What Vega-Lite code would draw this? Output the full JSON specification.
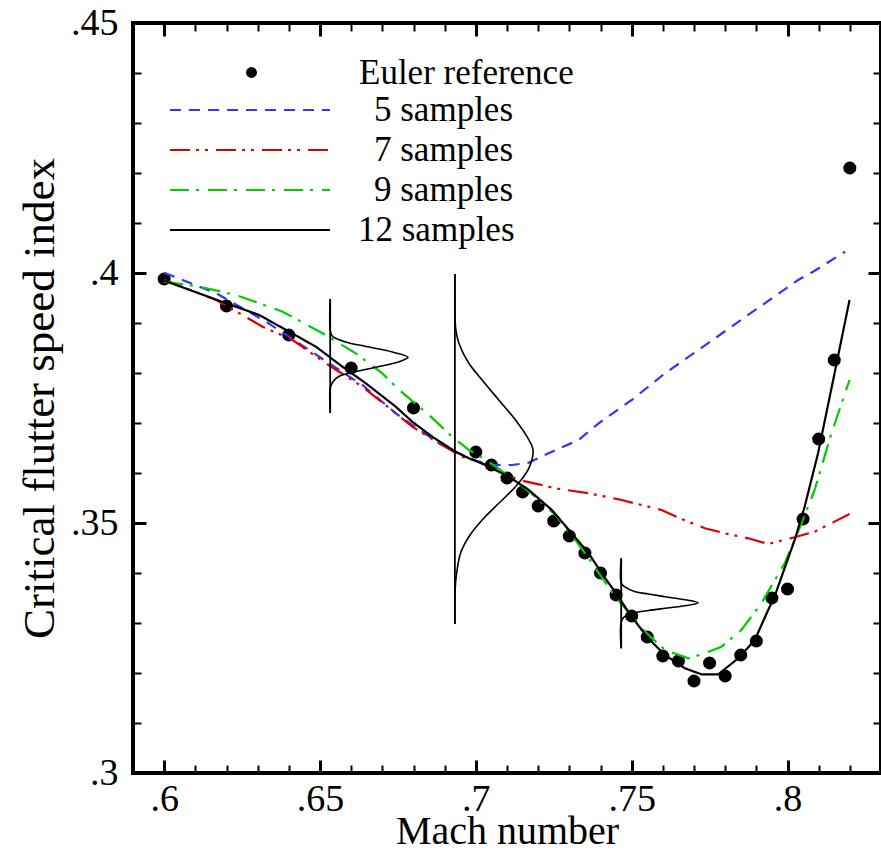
{
  "$schema": "https://vega.github.io/schema/vega-lite/v6.json",
  "width": 748,
  "height": 750,
  "autosize": {"type": "none"},
  "padding": {"left": 133, "top": 23, "right": 0, "bottom": 79},
  "background": "white",
  "config": {
    "view": {"stroke": "black", "strokeWidth": 4},
    "font": "Liberation Serif",
    "axis": {
      "grid": false,
      "domain": false,
      "tickColor": "black",
      "labelColor": "black",
      "titleColor": "black",
      "labelFont": "Liberation Serif",
      "titleFont": "Liberation Serif",
      "titleFontWeight": "normal",
      "labelFlush": false,
      "labelOverlap": false
    },
    "legend": {
      "labelFont": "Liberation Serif",
      "labelColor": "black",
      "labelFontSize": 35,
      "labelLimit": 0,
      "padding": 0,
      "title": null
    }
  },
  "datasets": {
    "euler": [
      {"mach": 0.6, "speed": 0.3988}, {"mach": 0.62, "speed": 0.3934}, {"mach": 0.64, "speed": 0.3876},
      {"mach": 0.66, "speed": 0.381}, {"mach": 0.68, "speed": 0.373}, {"mach": 0.7, "speed": 0.3642},
      {"mach": 0.705, "speed": 0.3616}, {"mach": 0.71, "speed": 0.359}, {"mach": 0.715, "speed": 0.3562},
      {"mach": 0.72, "speed": 0.3534}, {"mach": 0.725, "speed": 0.3504}, {"mach": 0.73, "speed": 0.3474},
      {"mach": 0.735, "speed": 0.344}, {"mach": 0.74, "speed": 0.34}, {"mach": 0.745, "speed": 0.3356},
      {"mach": 0.75, "speed": 0.3314}, {"mach": 0.755, "speed": 0.3272}, {"mach": 0.76, "speed": 0.3234},
      {"mach": 0.765, "speed": 0.3224}, {"mach": 0.77, "speed": 0.3184}, {"mach": 0.775, "speed": 0.322},
      {"mach": 0.78, "speed": 0.3194}, {"mach": 0.785, "speed": 0.3236}, {"mach": 0.79, "speed": 0.3264},
      {"mach": 0.795, "speed": 0.335}, {"mach": 0.8, "speed": 0.3368}, {"mach": 0.805, "speed": 0.3508},
      {"mach": 0.81, "speed": 0.3668}, {"mach": 0.815, "speed": 0.3826}, {"mach": 0.82, "speed": 0.421}
    ],
    "models": [
      {"s": "5 samples", "mach": 0.6, "speed": 0.40006},
      {"s": "5 samples", "mach": 0.6167, "speed": 0.39594},
      {"s": "5 samples", "mach": 0.6327, "speed": 0.39026},
      {"s": "5 samples", "mach": 0.6433, "speed": 0.38594},
      {"s": "5 samples", "mach": 0.6529, "speed": 0.38194},
      {"s": "5 samples", "mach": 0.6636, "speed": 0.3776},
      {"s": "5 samples", "mach": 0.6743, "speed": 0.37194},
      {"s": "5 samples", "mach": 0.6796, "speed": 0.3696},
      {"s": "5 samples", "mach": 0.6882, "speed": 0.36594},
      {"s": "5 samples", "mach": 0.6956, "speed": 0.3636},
      {"s": "5 samples", "mach": 0.701, "speed": 0.36226},
      {"s": "5 samples", "mach": 0.7063, "speed": 0.3616},
      {"s": "5 samples", "mach": 0.7116, "speed": 0.3616},
      {"s": "5 samples", "mach": 0.717, "speed": 0.36206},
      {"s": "5 samples", "mach": 0.7244, "speed": 0.36426},
      {"s": "5 samples", "mach": 0.733, "speed": 0.3666},
      {"s": "5 samples", "mach": 0.7394, "speed": 0.36994},
      {"s": "5 samples", "mach": 0.75, "speed": 0.3746},
      {"s": "5 samples", "mach": 0.7607, "speed": 0.37994},
      {"s": "5 samples", "mach": 0.7714, "speed": 0.3846},
      {"s": "5 samples", "mach": 0.782, "speed": 0.38926},
      {"s": "5 samples", "mach": 0.7927, "speed": 0.39394},
      {"s": "5 samples", "mach": 0.8034, "speed": 0.3986},
      {"s": "5 samples", "mach": 0.8082, "speed": 0.40026},
      {"s": "5 samples", "mach": 0.8185, "speed": 0.40426},
      {"s": "7 samples", "mach": 0.6, "speed": 0.3986},
      {"s": "7 samples", "mach": 0.6167, "speed": 0.3946},
      {"s": "7 samples", "mach": 0.6316, "speed": 0.38926},
      {"s": "7 samples", "mach": 0.6412, "speed": 0.3866},
      {"s": "7 samples", "mach": 0.6519, "speed": 0.38194},
      {"s": "7 samples", "mach": 0.6636, "speed": 0.37726},
      {"s": "7 samples", "mach": 0.6743, "speed": 0.37194},
      {"s": "7 samples", "mach": 0.6796, "speed": 0.36926},
      {"s": "7 samples", "mach": 0.6882, "speed": 0.36594},
      {"s": "7 samples", "mach": 0.6956, "speed": 0.36326},
      {"s": "7 samples", "mach": 0.701, "speed": 0.36226},
      {"s": "7 samples", "mach": 0.7063, "speed": 0.3606},
      {"s": "7 samples", "mach": 0.7138, "speed": 0.3586},
      {"s": "7 samples", "mach": 0.7202, "speed": 0.35774},
      {"s": "7 samples", "mach": 0.7255, "speed": 0.35694},
      {"s": "7 samples", "mach": 0.7362, "speed": 0.35594},
      {"s": "7 samples", "mach": 0.7458, "speed": 0.35474},
      {"s": "7 samples", "mach": 0.7532, "speed": 0.3536},
      {"s": "7 samples", "mach": 0.7596, "speed": 0.3526},
      {"s": "7 samples", "mach": 0.766, "speed": 0.3508},
      {"s": "7 samples", "mach": 0.7735, "speed": 0.34894},
      {"s": "7 samples", "mach": 0.7799, "speed": 0.34794},
      {"s": "7 samples", "mach": 0.7874, "speed": 0.34694},
      {"s": "7 samples", "mach": 0.7938, "speed": 0.3458},
      {"s": "7 samples", "mach": 0.8023, "speed": 0.34714},
      {"s": "7 samples", "mach": 0.8087, "speed": 0.34826},
      {"s": "7 samples", "mach": 0.8199, "speed": 0.3518},
      {"s": "9 samples", "mach": 0.6, "speed": 0.39826},
      {"s": "9 samples", "mach": 0.6113, "speed": 0.39726},
      {"s": "9 samples", "mach": 0.6231, "speed": 0.3956},
      {"s": "9 samples", "mach": 0.638, "speed": 0.39226},
      {"s": "9 samples", "mach": 0.6508, "speed": 0.38794},
      {"s": "9 samples", "mach": 0.6615, "speed": 0.38394},
      {"s": "9 samples", "mach": 0.67, "speed": 0.37994},
      {"s": "9 samples", "mach": 0.6754, "speed": 0.3766},
      {"s": "9 samples", "mach": 0.685, "speed": 0.3716},
      {"s": "9 samples", "mach": 0.6924, "speed": 0.36726},
      {"s": "9 samples", "mach": 0.6978, "speed": 0.3646},
      {"s": "9 samples", "mach": 0.7042, "speed": 0.36226},
      {"s": "9 samples", "mach": 0.7116, "speed": 0.35894},
      {"s": "9 samples", "mach": 0.7191, "speed": 0.35526},
      {"s": "9 samples", "mach": 0.7255, "speed": 0.3516},
      {"s": "9 samples", "mach": 0.7308, "speed": 0.3476},
      {"s": "9 samples", "mach": 0.7362, "speed": 0.34294},
      {"s": "9 samples", "mach": 0.7447, "speed": 0.33526},
      {"s": "9 samples", "mach": 0.7543, "speed": 0.32826},
      {"s": "9 samples", "mach": 0.7607, "speed": 0.3246},
      {"s": "9 samples", "mach": 0.7682, "speed": 0.32294},
      {"s": "9 samples", "mach": 0.7735, "speed": 0.32394},
      {"s": "9 samples", "mach": 0.7788, "speed": 0.32526},
      {"s": "9 samples", "mach": 0.7852, "speed": 0.3286},
      {"s": "9 samples", "mach": 0.7916, "speed": 0.33394},
      {"s": "9 samples", "mach": 0.7991, "speed": 0.34194},
      {"s": "9 samples", "mach": 0.8045, "speed": 0.34994},
      {"s": "9 samples", "mach": 0.8087, "speed": 0.3566},
      {"s": "9 samples", "mach": 0.8141, "speed": 0.36794},
      {"s": "9 samples", "mach": 0.8199, "speed": 0.3786},
      {"s": "12 samples", "mach": 0.6001, "speed": 0.39846},
      {"s": "12 samples", "mach": 0.6199, "speed": 0.39394},
      {"s": "12 samples", "mach": 0.6305, "speed": 0.3916},
      {"s": "12 samples", "mach": 0.6401, "speed": 0.38826},
      {"s": "12 samples", "mach": 0.6487, "speed": 0.38526},
      {"s": "12 samples", "mach": 0.6572, "speed": 0.38126},
      {"s": "12 samples", "mach": 0.6647, "speed": 0.37794},
      {"s": "12 samples", "mach": 0.6743, "speed": 0.37326},
      {"s": "12 samples", "mach": 0.6796, "speed": 0.37026},
      {"s": "12 samples", "mach": 0.686, "speed": 0.36726},
      {"s": "12 samples", "mach": 0.6935, "speed": 0.36426},
      {"s": "12 samples", "mach": 0.6978, "speed": 0.36294},
      {"s": "12 samples", "mach": 0.7031, "speed": 0.3616},
      {"s": "12 samples", "mach": 0.7106, "speed": 0.35926},
      {"s": "12 samples", "mach": 0.717, "speed": 0.3566},
      {"s": "12 samples", "mach": 0.7244, "speed": 0.3526},
      {"s": "12 samples", "mach": 0.7308, "speed": 0.34794},
      {"s": "12 samples", "mach": 0.7362, "speed": 0.34394},
      {"s": "12 samples", "mach": 0.7404, "speed": 0.33994},
      {"s": "12 samples", "mach": 0.7452, "speed": 0.33574},
      {"s": "12 samples", "mach": 0.75, "speed": 0.33126},
      {"s": "12 samples", "mach": 0.7553, "speed": 0.32694},
      {"s": "12 samples", "mach": 0.7607, "speed": 0.3236},
      {"s": "12 samples", "mach": 0.7671, "speed": 0.32094},
      {"s": "12 samples", "mach": 0.7724, "speed": 0.31974},
      {"s": "12 samples", "mach": 0.7778, "speed": 0.31974},
      {"s": "12 samples", "mach": 0.7842, "speed": 0.32294},
      {"s": "12 samples", "mach": 0.7895, "speed": 0.3266},
      {"s": "12 samples", "mach": 0.7938, "speed": 0.3326},
      {"s": "12 samples", "mach": 0.7959, "speed": 0.3354},
      {"s": "12 samples", "mach": 0.8023, "speed": 0.3466},
      {"s": "12 samples", "mach": 0.8055, "speed": 0.35326},
      {"s": "12 samples", "mach": 0.8098, "speed": 0.36394},
      {"s": "12 samples", "mach": 0.8151, "speed": 0.37994},
      {"s": "12 samples", "mach": 0.8199, "speed": 0.3946}
    ],
    "pdfs": [
      {"pdf": "M0.653", "mach": 0.65327, "speed": 0.3948},
      {"pdf": "M0.653", "mach": 0.65328, "speed": 0.3886},
      {"pdf": "M0.653", "mach": 0.6539, "speed": 0.3874},
      {"pdf": "M0.653", "mach": 0.65518, "speed": 0.3869},
      {"pdf": "M0.653", "mach": 0.65934, "speed": 0.386},
      {"pdf": "M0.653", "mach": 0.66414, "speed": 0.3854},
      {"pdf": "M0.653", "mach": 0.66895, "speed": 0.3848},
      {"pdf": "M0.653", "mach": 0.67375, "speed": 0.3841},
      {"pdf": "M0.653", "mach": 0.67823, "speed": 0.38314},
      {"pdf": "M0.653", "mach": 0.67535, "speed": 0.38226},
      {"pdf": "M0.653", "mach": 0.66895, "speed": 0.3813},
      {"pdf": "M0.653", "mach": 0.66159, "speed": 0.3803},
      {"pdf": "M0.653", "mach": 0.65711, "speed": 0.3796},
      {"pdf": "M0.653", "mach": 0.65518, "speed": 0.37894},
      {"pdf": "M0.653", "mach": 0.6539, "speed": 0.378},
      {"pdf": "M0.653", "mach": 0.65328, "speed": 0.377},
      {"pdf": "M0.653", "mach": 0.65327, "speed": 0.372},
      {"pdf": "M0.693", "mach": 0.69328, "speed": 0.3998},
      {"pdf": "M0.693", "mach": 0.69328, "speed": 0.3946},
      {"pdf": "M0.693", "mach": 0.69332, "speed": 0.39126},
      {"pdf": "M0.693", "mach": 0.6936, "speed": 0.3886},
      {"pdf": "M0.693", "mach": 0.69456, "speed": 0.38594},
      {"pdf": "M0.693", "mach": 0.69776, "speed": 0.38194},
      {"pdf": "M0.693", "mach": 0.70202, "speed": 0.3786},
      {"pdf": "M0.693", "mach": 0.70736, "speed": 0.3746},
      {"pdf": "M0.693", "mach": 0.71271, "speed": 0.3706},
      {"pdf": "M0.693", "mach": 0.71642, "speed": 0.36726},
      {"pdf": "M0.693", "mach": 0.71834, "speed": 0.3646},
      {"pdf": "M0.693", "mach": 0.717, "speed": 0.36094},
      {"pdf": "M0.693", "mach": 0.71271, "speed": 0.35726},
      {"pdf": "M0.693", "mach": 0.70736, "speed": 0.35394},
      {"pdf": "M0.693", "mach": 0.70202, "speed": 0.3506},
      {"pdf": "M0.693", "mach": 0.69776, "speed": 0.34726},
      {"pdf": "M0.693", "mach": 0.69509, "speed": 0.34394},
      {"pdf": "M0.693", "mach": 0.6937, "speed": 0.33926},
      {"pdf": "M0.693", "mach": 0.69332, "speed": 0.33594},
      {"pdf": "M0.693", "mach": 0.69328, "speed": 0.3298},
      {"pdf": "M0.747", "mach": 0.74664, "speed": 0.34294},
      {"pdf": "M0.747", "mach": 0.74666, "speed": 0.338},
      {"pdf": "M0.747", "mach": 0.74769, "speed": 0.33726},
      {"pdf": "M0.747", "mach": 0.75112, "speed": 0.33626},
      {"pdf": "M0.747", "mach": 0.75538, "speed": 0.3358},
      {"pdf": "M0.747", "mach": 0.76073, "speed": 0.33526},
      {"pdf": "M0.747", "mach": 0.76658, "speed": 0.3347},
      {"pdf": "M0.747", "mach": 0.77136, "speed": 0.33406},
      {"pdf": "M0.747", "mach": 0.76658, "speed": 0.3334},
      {"pdf": "M0.747", "mach": 0.76073, "speed": 0.33294},
      {"pdf": "M0.747", "mach": 0.75538, "speed": 0.3325},
      {"pdf": "M0.747", "mach": 0.75112, "speed": 0.33206},
      {"pdf": "M0.747", "mach": 0.74769, "speed": 0.33126},
      {"pdf": "M0.747", "mach": 0.74666, "speed": 0.33026},
      {"pdf": "M0.747", "mach": 0.74664, "speed": 0.32494}
    ],
    "pdfaxes": [
      {"mach": 0.65327, "lo": 0.372, "hi": 0.3948},
      {"mach": 0.69328, "lo": 0.3298, "hi": 0.3998},
      {"mach": 0.74664, "lo": 0.32494, "hi": 0.34294}
    ]
  },
  "layer": [
    {
      "data": {"name": "euler"},
      "mark": {"type": "point", "filled": true, "color": "black", "opacity": 1, "size": 170},
      "encoding": {
        "x": {
          "field": "mach", "type": "quantitative",
          "scale": {"domain": [0.59, 0.83], "nice": false, "zero": false},
          "axis": {"orient": "top", "values": [0.59,0.6,0.61,0.62,0.63,0.64,0.65,0.66,0.67,0.68,0.69,0.7,0.71,0.72,0.73,0.74,0.75,0.76,0.77,0.78,0.79,0.8,0.81,0.82,0.83], "tickSize": -8, "tickWidth": 2, "labels": false, "title": null}
        },
        "y": {
          "field": "speed", "type": "quantitative",
          "scale": {"domain": [0.3, 0.45], "nice": false, "zero": false},
          "axis": {"orient": "right", "values": [0.3,0.31,0.32,0.33,0.34,0.35,0.36,0.37,0.38,0.39,0.4,0.41,0.42,0.43,0.44,0.45], "tickSize": -8, "tickWidth": 2, "labels": false, "title": null}
        },
        "shape": {
          "datum": "Euler reference", "type": "nominal",
          "scale": {"range": ["circle"]},
          "legend": {"orient": "none", "legendX": 101, "legendY": 32, "symbolType": "circle", "symbolSize": 120, "symbolFillColor": "black", "symbolStrokeColor": "black", "symbolStrokeWidth": 0, "labelOffset": 90}
        }
      }
    },
    {
      "data": {"name": "models"},
      "mark": {"type": "line", "strokeWidth": 2.2},
      "encoding": {
        "x": {
          "field": "mach", "type": "quantitative",
          "axis": {"orient": "bottom", "values": [0.6, 0.65, 0.7, 0.75, 0.8], "tickSize": -13, "tickWidth": 3, "labelFontSize": 38, "labelPadding": 20, "labelExpr": "substring(format(datum.value, '~g'), 1)", "title": "Mach number", "titleFontSize": 40, "titlePadding": -7}
        },
        "y": {
          "field": "speed", "type": "quantitative",
          "axis": {"orient": "left", "values": [0.3, 0.35, 0.4, 0.45], "tickSize": -13, "tickWidth": 3, "labelFontSize": 38, "labelPadding": 28, "labelExpr": "substring(format(datum.value, '~g'), 1)", "title": "Critical flutter speed index", "titleFontSize": 45, "titlePadding": 8}
        },
        "color": {
          "field": "s", "type": "nominal",
          "scale": {"domain": ["5 samples", "7 samples", "9 samples", "12 samples"], "range": ["#3333ff", "#dd0000", "#00cc00", "#000000"]},
          "legend": {"orient": "none", "legendX": 99.5, "legendY": 69.5, "symbolType": "M-8,0H8", "symbolSize": 400, "symbolStrokeWidth": 2, "labelOffset": 90.5, "rowPadding": 4, "encode": {"labels": {"update": {"dx": {"signal": "datum.value == '12 samples' ? 0 : 16"}}}}}
        },
        "strokeDash": {
          "field": "s", "type": "nominal",
          "scale": {"domain": ["5 samples", "7 samples", "9 samples", "12 samples"], "range": [[11, 8], [20, 6, 3, 6, 3, 8], [19, 7, 3, 9], [1, 0]]},
          "legend": {"orient": "none", "legendX": 99.5, "legendY": 69.5, "symbolType": "M-8,0H8", "symbolSize": 400, "symbolStrokeWidth": 2, "labelOffset": 90.5, "rowPadding": 4, "encode": {"labels": {"update": {"dx": {"signal": "datum.value == '12 samples' ? 0 : 16"}}}}}
        }
      }
    },
    {
      "data": {"name": "pdfs"},
      "mark": {"type": "line", "color": "black", "strokeWidth": 1.6, "interpolate": "catmull-rom"},
      "encoding": {
        "x": {
          "field": "mach", "type": "quantitative",
          "axis": {"orient": "top", "values": [0.6, 0.65, 0.7, 0.75, 0.8], "tickSize": -13, "tickWidth": 3, "labels": false, "title": null}
        },
        "y": {
          "field": "speed", "type": "quantitative",
          "axis": {"orient": "right", "values": [0.3, 0.35, 0.4, 0.45], "tickSize": -13, "tickWidth": 3, "labels": false, "title": null}
        },
        "detail": {"field": "pdf", "type": "nominal"},
        "order": {"field": "speed", "type": "quantitative"}
      }
    },
    {
      "data": {"name": "pdfaxes"},
      "mark": {"type": "rule", "color": "black", "strokeWidth": 1.8},
      "encoding": {
        "x": {
          "field": "mach", "type": "quantitative",
          "axis": {"orient": "bottom", "values": [0.59,0.6,0.61,0.62,0.63,0.64,0.65,0.66,0.67,0.68,0.69,0.7,0.71,0.72,0.73,0.74,0.75,0.76,0.77,0.78,0.79,0.8,0.81,0.82,0.83], "tickSize": -8, "tickWidth": 2, "labels": false, "title": null}
        },
        "y": {
          "field": "lo", "type": "quantitative",
          "axis": {"orient": "left", "values": [0.3,0.31,0.32,0.33,0.34,0.35,0.36,0.37,0.38,0.39,0.4,0.41,0.42,0.43,0.44,0.45], "tickSize": -8, "tickWidth": 2, "labels": false, "title": null}
        },
        "y2": {"field": "hi"}
      }
    }
  ],
  "resolve": {"axis": {"x": "independent", "y": "independent"}}
}
